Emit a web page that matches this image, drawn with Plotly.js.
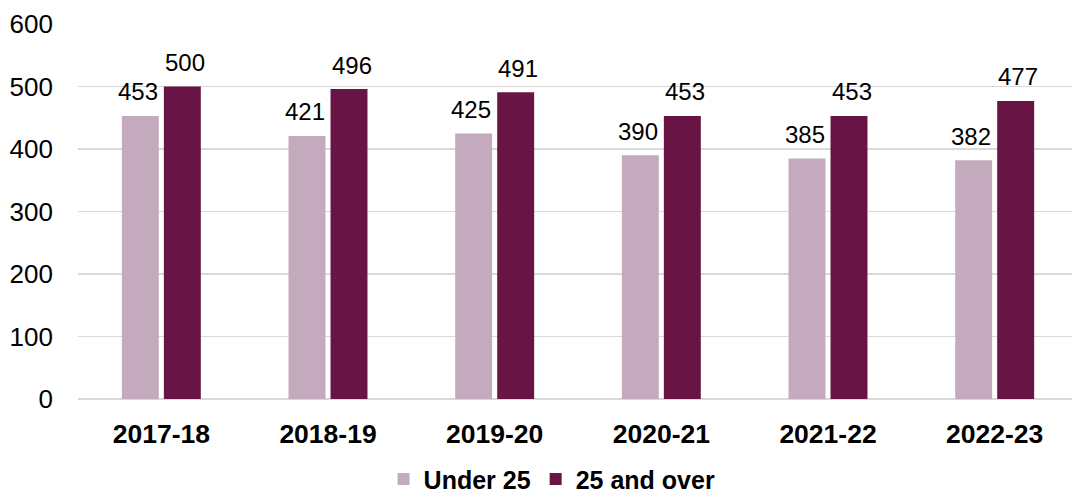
<!DOCTYPE html>
<html><head><meta charset="utf-8">
<script src="https://cdn.plot.ly/plotly-3.0.1.min.js"></script>
<style>html,body{margin:0;padding:0;background:#fff}#chart{width:1072px;height:495px}</style>
</head><body><div id="chart"></div>
<script>
const categories = ["2017-18","2018-19","2019-20","2020-21","2021-22","2022-23"];
const under25 = [453,421,425,390,385,382];
const over25 = [500,496,491,453,453,477];
const seriesNames = ["Under 25","25 and over"];
const yTicks = [0,100,200,300,400,500,600];

const colLight = "#C4AABD", colDark = "#681445";
const traces = [
  {type:"bar", x:categories, y:under25, name:seriesNames[0], marker:{color:colLight}},
  {type:"bar", x:categories, y:over25, name:seriesNames[1], marker:{color:colDark}}
];
const ann = [];
categories.forEach((c,i)=>{
  ann.push({x:c, y:under25[i], text:String(under25[i]), showarrow:false, xref:"x", yref:"y", xshift:-23.5, yshift:24, yanchor:"middle", font:{size:24,color:"#000"}});
  ann.push({x:c, y:over25[i], text:String(over25[i]), showarrow:false, xref:"x", yref:"y", xshift:23.5, yshift:24, yanchor:"middle", font:{size:24,color:"#000"}});
});
const layout = {
  width:1072, height:495,
  margin:{l:78, r:0, t:24, b:96},
  paper_bgcolor:"#fff", plot_bgcolor:"#fff",
  font:{family:"Liberation Sans, Arial, sans-serif", size:24, color:"#000"},
  barmode:"group", bargap:0.496, bargroupgap:0.12,
  xaxis:{type:"category", range:[-0.5,5.464], showgrid:false, zeroline:false, showline:false, automargin:false,
    ticks:"", ticklabelstandoff:16, tickfont:{size:26.5, weight:"bold"}},
  yaxis:{range:[0,600], tickvals:yTicks, showgrid:true, gridcolor:"#D9D9D9", gridwidth:1.5, automargin:false,
    zeroline:true, zerolinecolor:"#D9D9D9", zerolinewidth:1.5, ticks:"", ticklabelstandoff:24, tickfont:{size:26}},
  legend:{orientation:"h", x:0.515, xanchor:"center", xref:"container", y:0.032, yanchor:"middle", yref:"container",
    font:{size:25, weight:"bold"}, itemwidth:30, traceorder:"normal"},
  annotations:ann,
  showlegend:true
};
Plotly.newPlot("chart", traces, layout, {staticPlot:true});
</script></body></html>
